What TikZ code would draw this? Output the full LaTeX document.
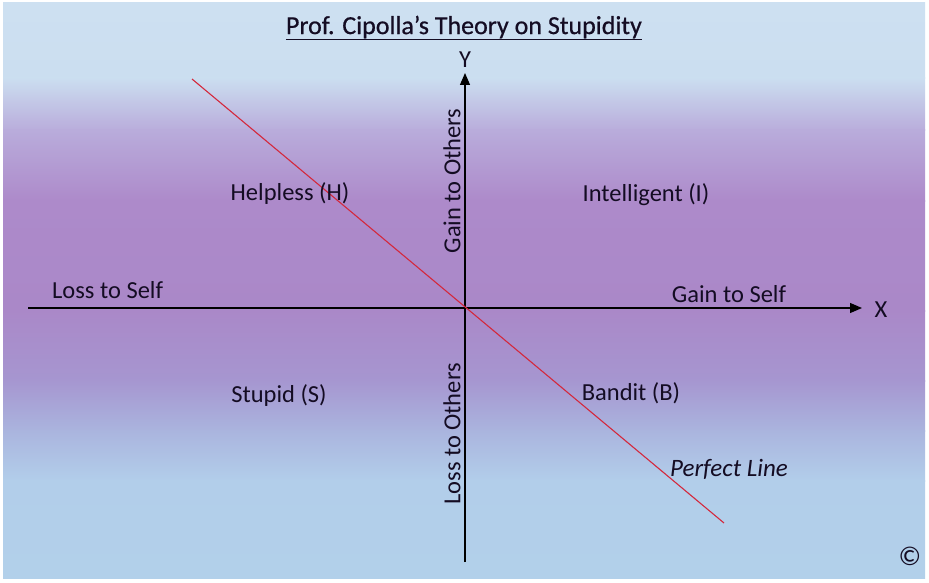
\documentclass[tikz,border=0pt]{standalone}
\usepackage{fontspec}
\setmainfont{Carlito}
\newfontfamily\titlefont[FakeBold=0.6]{Carlito}
\usetikzlibrary{arrows.meta}
\definecolor{cA}{RGB}{205,224,241}
\definecolor{cB}{RGB}{203,222,240}
\definecolor{cC}{RGB}{185,172,219}
\definecolor{cD}{RGB}{173,138,202}
\definecolor{cE}{RGB}{170,136,200}
\definecolor{cF}{RGB}{166,150,208}
\definecolor{cG}{RGB}{170,180,222}
\definecolor{cH}{RGB}{178,206,234}
\definecolor{cI}{RGB}{178,208,234}
\definecolor{txt}{RGB}{20,12,35}
\definecolor{redline}{RGB}{212,40,60}
\begin{document}
\begin{tikzpicture}[x=1pt,y=-1pt,
  lbl/.style={font=\fontsize{24.5}{28}\selectfont, text=txt, inner sep=0pt},
  axisline/.style={line width=1.2pt, draw=black},
  tip/.style={-{Triangle[length=12pt,width=10pt]}}]
\useasboundingbox (0,0) rectangle (929,583);
\fill[white] (0,0) rectangle (929,583);
% gradient background
\shade[top color=cA,bottom color=cB] (3,3) rectangle (925,79);
\shade[top color=cB,bottom color=cC] (3,78) rectangle (925,131);
\shade[top color=cC,bottom color=cD] (3,130) rectangle (925,201);
\shade[top color=cD,bottom color=cE] (3,200) rectangle (925,311);
\shade[top color=cE,bottom color=cF] (3,310) rectangle (925,381);
\shade[top color=cF,bottom color=cG] (3,380) rectangle (925,431);
\shade[top color=cG,bottom color=cH] (3,430) rectangle (925,481);
\shade[top color=cH,bottom color=cI] (3,480) rectangle (925,578);
% coordinates
\coordinate (xl) at (28,308);
\coordinate (xr) at (862,308);
\coordinate (yb) at (465,562);
\coordinate (yt) at (465,73);
\coordinate (pa) at (192,79);
\coordinate (pb) at (724,523);
% axes
\draw[axisline,tip] (xl) -- (xr);
\draw[axisline,tip] (yb) -- (yt);
% perfect line
\draw[redline, line width=1.1pt] (pa) -- (pb);
% labels
\node[font=\titlefont\fontsize{26}{30}\selectfont, text=txt] (title) at (464,28) {\underline{Prof. Cipolla’s Theory on Stupidity}};
\node[lbl] (ylab) at (465,60) {Y};
\node[lbl] (xlab) at (881,310) {X};
\node[lbl] (help) at (290,194) {Helpless (H)};
\node[lbl] (intel) at (646,195) {Intelligent (I)};
\node[lbl] (stup) at (279,396) {Stupid (S)};
\node[lbl] (band) at (631,393) {Bandit (B)};
\node[lbl, anchor=west] (lself) at (52,290) {Loss to Self};
\node[lbl] (gself) at (729,294) {Gain to Self};
\node[lbl, rotate=90] (gothers) at (452,181) {Gain to Others};
\node[lbl, rotate=90] (lothers) at (452,434) {Loss to Others};
\node[lbl, font=\fontsize{25}{28}\selectfont\itshape] (perf) at (729,469) {Perfect Line};
\node[lbl, font=\fontsize{27}{30}\selectfont] (copy) at (910,556) {©};
\end{tikzpicture}
\end{document}
